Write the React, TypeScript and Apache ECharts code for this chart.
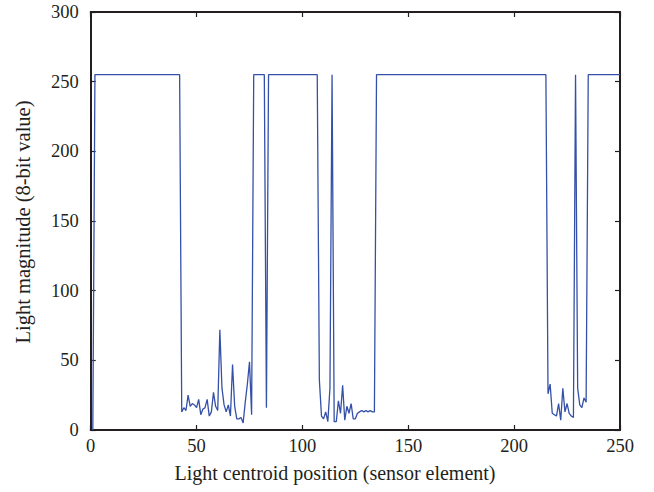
import React, { useEffect, useRef } from "react";
import * as echarts from "echarts";

// Sensor element positions (breakpoints of the trace) and light magnitudes
const positions = [
  1, 2, 42,
  43, 44, 45, 46, 47, 48, 49, 50, 51, 52, 53, 54, 55, 56, 57, 58, 59, 60,
  61, 62, 63, 64, 65, 66, 67, 68, 69, 70, 71, 72, 73, 74, 75, 76,
  77, 82, 83, 84, 107,
  108, 109, 110, 111, 112, 113, 114, 115, 116, 117, 118, 119, 120, 121,
  122, 123, 124, 125, 126, 127, 128, 129, 130, 131, 132, 133, 134,
  135, 215,
  216, 217, 218, 219, 220, 221, 222, 223, 224, 225, 226, 227, 228,
  229,
  230, 231, 232, 233, 234,
  235, 250,
];
const magnitudes = [
  0, 255, 255,
  13, 16, 14, 25, 17, 19, 18, 16, 22, 11, 15, 16, 22, 10, 13, 27, 17, 14,
  72, 30, 18, 13, 18, 10, 47, 17, 8, 8, 9, 5, 20, 33, 49, 11,
  255, 255, 16, 255, 255,
  36, 10, 8, 13, 6, 30, 255, 6, 6, 21, 12, 32, 7, 17,
  12, 19, 8, 8, 12, 13, 14, 13, 14, 13, 14, 13, 13,
  255, 255,
  26, 33, 12, 11, 10, 19, 7, 30, 13, 19, 12, 10, 9,
  255,
  30, 18, 16, 23, 20,
  255, 255,
];

const xTicks = [0, 50, 100, 150, 200, 250];
const yTicks = [0, 50, 100, 150, 200, 250, 300];

const xTitle = "Light centroid position (sensor element)";
const yTitle = "Light magnitude (8-bit value)";

export default function App() {
  const ref = useRef<HTMLDivElement>(null);
  useEffect(() => {
    if (!ref.current) return;
    const chart = echarts.init(ref.current, undefined, { renderer: "svg" });
    const ink = "#231f20";
    const font = "Liberation Serif";
    const axisCommon = {
      type: "value" as const,
      axisLine: { show: true, onZero: false, lineStyle: { color: ink, width: 2 } },
      axisTick: { show: true, inside: true, length: 5, lineStyle: { color: ink, width: 1.2 } },
      splitLine: { show: false },
    };
    const data = positions.map((p, i) => [p, magnitudes[i]]);
    chart.setOption({
      animation: false,
      backgroundColor: "#ffffff",
      grid: { left: 90.7, right: 34, top: 12, bottom: 62, containLabel: false },
      xAxis: [
        {
          ...axisCommon,
          position: "bottom",
          min: xTicks[0],
          max: xTicks[xTicks.length - 1],
          interval: 50,
          axisLabel: { color: ink, fontFamily: font, fontSize: 18.5, margin: 6 },
        },
        {
          ...axisCommon,
          position: "top",
          min: xTicks[0],
          max: xTicks[xTicks.length - 1],
          interval: 50,
          axisLabel: { show: false },
        },
      ],
      yAxis: [
        {
          ...axisCommon,
          position: "left",
          min: yTicks[0],
          max: yTicks[yTicks.length - 1],
          interval: 50,
          axisLabel: { color: ink, fontFamily: font, fontSize: 18.5, margin: 12 },
        },
        {
          ...axisCommon,
          position: "right",
          min: yTicks[0],
          max: yTicks[yTicks.length - 1],
          interval: 50,
          axisLabel: { show: false },
        },
      ],
      graphic: [
        {
          type: "text",
          x: 335,
          y: 473,
          style: {
            text: xTitle,
            fill: ink,
            font: `20px "${font}"`,
            align: "center",
            verticalAlign: "middle",
          },
        },
        {
          type: "text",
          x: 23,
          y: 222,
          rotation: Math.PI / 2,
          style: {
            text: yTitle,
            fill: ink,
            font: `20.5px "${font}"`,
            align: "center",
            verticalAlign: "middle",
          },
        },
      ],
      series: [
        {
          type: "line",
          data,
          showSymbol: false,
          symbol: "none",
          lineStyle: { color: "#3450a8", width: 1.3 },
          xAxisIndex: 0,
          yAxisIndex: 0,
        },
      ],
    });
    return () => chart.dispose();
  }, []);
  return (
    <div
      ref={ref}
      style={{ position: "fixed", left: 0, top: 0, width: 654, height: 492 }}
    />
  );
}
